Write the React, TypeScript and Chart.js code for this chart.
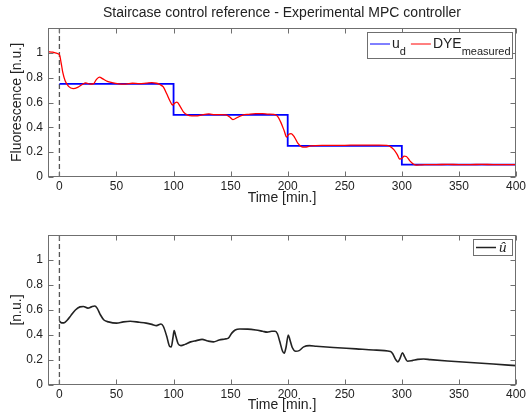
import React, { useEffect, useRef } from 'react';
import { Chart, registerables } from 'chart.js';

Chart.register(...registerables);

const FONT = "'Liberation Sans', Arial, Helvetica, sans-serif";
const TEXT_COLOR = '#222222';
const AXIS_COLOR = '#6f6f6f';

const TITLE = 'Staircase control reference - Experimental MPC controller';
const X_TITLE = 'Time [min.]';
const Y_TITLE_TOP = 'Fluorescence [n.u.]';
const Y_TITLE_BOTTOM = '[n.u.]';

const X_MIN = -10;
const X_MAX = 400;
const Y_MIN = 0;
const Y_MAX = 1.2;
const X_TICKS = [0, 50, 100, 150, 200, 250, 300, 350, 400];
const Y_TICKS = [0, 0.2, 0.4, 0.6, 0.8, 1];

// reference u_d (stepped)
const REF_T = [0, 100, 200, 300, 400];
const REF_V = [0.75, 0.5, 0.25, 0.1, 0.1];

// measured dye fluorescence
const DYE_T = [-10, -6, -2, 0, 1.5, 3, 5, 8, 12, 16, 20, 23, 27, 30, 32, 35, 38, 42, 46, 52, 58, 64, 70, 76, 81, 85, 88, 91, 94, 97, 99, 101, 103, 106, 109, 112, 116, 121, 126, 131, 136, 141, 146, 149, 152, 156, 160, 166, 172, 178, 183, 188, 191, 194, 197, 199, 201, 203, 206, 209, 212, 215, 220, 230, 240, 250, 260, 270, 280, 287, 290, 293, 296, 298, 300, 302, 304, 307, 310, 313, 316, 320, 330, 340, 350, 360, 370, 380, 390, 400];
const DYE_V = [1.01, 1.005, 0.995, 0.985, 0.92, 0.84, 0.775, 0.73, 0.712, 0.722, 0.745, 0.758, 0.748, 0.752, 0.78, 0.805, 0.79, 0.77, 0.76, 0.75, 0.748, 0.755, 0.752, 0.756, 0.76, 0.755, 0.745, 0.725, 0.67, 0.61, 0.58, 0.595, 0.603, 0.565, 0.52, 0.5, 0.492, 0.493, 0.503, 0.508, 0.502, 0.502, 0.5, 0.485, 0.462, 0.48, 0.497, 0.505, 0.51, 0.51, 0.507, 0.505, 0.49, 0.44, 0.37, 0.322, 0.345, 0.35, 0.32, 0.27, 0.245, 0.24, 0.25, 0.255, 0.255, 0.255, 0.257, 0.256, 0.257, 0.255, 0.245, 0.22, 0.18, 0.145, 0.15, 0.168, 0.165, 0.13, 0.105, 0.096, 0.097, 0.1, 0.1, 0.101, 0.1, 0.1, 0.101, 0.1, 0.1, 0.1];

// control action u-hat
const U_T = [0, 2, 4, 7, 10, 14, 18, 21, 25, 28, 31, 33, 36, 39, 43, 50, 56, 62, 70, 76, 81, 85, 89, 91, 94, 96.5, 98, 99.5, 100.5, 102, 104, 106.5, 110, 115, 120, 125, 130, 135, 140, 145, 148, 151, 154, 158, 165, 172, 178, 182, 186, 189, 191, 193, 195.5, 197, 198.5, 200.5, 202, 204, 207, 210, 214, 219, 225, 240, 260, 275, 290, 292, 294.5, 296.5, 298.5, 300.5, 302.5, 305, 309, 314, 319, 325, 340, 360, 380, 400];
const U_V = [0.51, 0.497, 0.497, 0.52, 0.555, 0.6, 0.625, 0.628, 0.615, 0.625, 0.632, 0.615, 0.56, 0.52, 0.505, 0.495, 0.505, 0.51, 0.502, 0.495, 0.485, 0.475, 0.488, 0.47, 0.39, 0.31, 0.305, 0.38, 0.435, 0.39, 0.33, 0.315, 0.325, 0.345, 0.355, 0.365, 0.352, 0.345, 0.36, 0.368, 0.375, 0.415, 0.44, 0.448, 0.447, 0.44, 0.43, 0.423, 0.43, 0.43, 0.41, 0.35, 0.27, 0.255, 0.3, 0.4, 0.36, 0.3, 0.27, 0.275, 0.305, 0.315, 0.31, 0.3, 0.289, 0.28, 0.268, 0.25, 0.205, 0.185, 0.215, 0.258, 0.225, 0.19, 0.195, 0.205, 0.208, 0.203, 0.192, 0.18, 0.168, 0.155];

// start marker (dashed vertical line at t = 0)
const MARK_T = [0, 0];
const MARK_V = [0, 1.2];

const pts = (t: number[], v: number[]) => t.map((x, i) => ({ x, y: v[i] }));

type Part = { text: string; font: string; sub?: boolean };
type LegendItem = { color: string; width: number; parts: Part[] };
type LegendCfg = {
  items: LegendItem[];
  h: number;
  lineDy: number;
  baseDy: number;
  subDy: number;
  padL: number;
  padR: number;
  lineLen: number;
  gap: number;
  itemGap: number;
};

function makeDecor(title: string | null, legend: LegendCfg) {
  return {
    id: 'decor',
    afterDraw(chart: any) {
      const { ctx, chartArea: a, scales } = chart;
      const xs = scales.x;
      const ys = scales.y;
      ctx.save();
      // box
      ctx.strokeStyle = AXIS_COLOR;
      ctx.lineWidth = 1;
      const L = Math.round(a.left) + 0.5;
      const R = Math.round(a.right) - 0.5;
      const T = Math.round(a.top) + 0.5;
      const B = Math.round(a.bottom) - 0.5;
      ctx.strokeRect(L, T, R - L, B - T);
      // inward ticks
      const tl = 5;
      ctx.beginPath();
      X_TICKS.forEach((v) => {
        const px = Math.round(xs.getPixelForValue(v)) + 0.5;
        ctx.moveTo(px, B);
        ctx.lineTo(px, B - tl);
        ctx.moveTo(px, T);
        ctx.lineTo(px, T + tl);
      });
      Y_TICKS.forEach((v) => {
        const py = Math.round(ys.getPixelForValue(v)) + 0.5;
        ctx.moveTo(L, py);
        ctx.lineTo(L + tl, py);
        ctx.moveTo(R, py);
        ctx.lineTo(R - tl, py);
      });
      ctx.stroke();

      // title
      if (title) {
        ctx.fillStyle = TEXT_COLOR;
        ctx.font = `14px ${FONT}`;
        ctx.textAlign = 'center';
        ctx.textBaseline = 'middle';
        ctx.fillText(title, (a.left + a.right) / 2, 13);
      }

      // legend
      const lg = legend;
      const widths = lg.items.map((it) =>
        it.parts.reduce((s, p) => {
          ctx.font = p.font;
          return s + ctx.measureText(p.text).width;
        }, 0)
      );
      let total = lg.padL + lg.padR + lg.itemGap * (lg.items.length - 1);
      widths.forEach((w) => (total += lg.lineLen + lg.gap + w));
      const right = Math.round(a.right) - 3;
      const left = Math.round(right - total);
      const top = Math.round(a.top) + 4;
      ctx.fillStyle = '#ffffff';
      ctx.fillRect(left, top, right - left, lg.h);
      ctx.strokeStyle = AXIS_COLOR;
      ctx.lineWidth = 1;
      ctx.strokeRect(left + 0.5, top + 0.5, right - left - 1, lg.h - 1);
      let x = left + lg.padL;
      lg.items.forEach((it, i) => {
        ctx.strokeStyle = it.color;
        ctx.lineWidth = it.width;
        ctx.beginPath();
        ctx.moveTo(x, top + lg.lineDy);
        ctx.lineTo(x + lg.lineLen, top + lg.lineDy);
        ctx.stroke();
        x += lg.lineLen + lg.gap;
        ctx.fillStyle = TEXT_COLOR;
        ctx.textAlign = 'left';
        ctx.textBaseline = 'alphabetic';
        it.parts.forEach((p) => {
          ctx.font = p.font;
          ctx.fillText(p.text, x, top + (p.sub ? lg.subDy : lg.baseDy));
          x += ctx.measureText(p.text).width;
        });
        if (i < lg.items.length - 1) x += lg.itemGap;
      });
      ctx.restore();
    },
  };
}

function makeChart(
  canvas: HTMLCanvasElement,
  datasets: any[],
  yTitle: string,
  xHeight: number,
  xTitlePad: number,
  decor: any
) {
  return new Chart(canvas, {
    type: 'line',
    data: { datasets },
    options: {
      animation: false,
      responsive: false,
      maintainAspectRatio: false,
      devicePixelRatio: 1,
      layout: { padding: { top: 28, right: 11, left: 0, bottom: 0 } },
      elements: { point: { radius: 0 } },
      plugins: {
        legend: { display: false },
        tooltip: { enabled: false },
        title: { display: false },
      },
      scales: {
        x: {
          type: 'linear',
          min: X_MIN,
          max: X_MAX,
          afterBuildTicks: (s: any) => {
            s.ticks = X_TICKS.map((v) => ({ value: v }));
          },
          afterFit: (s: any) => {
            s.height = xHeight;
          },
          grid: { display: false, drawTicks: false },
          border: { display: false },
          ticks: {
            padding: 2,
            autoSkip: false,
            maxRotation: 0,
            color: TEXT_COLOR,
            font: { family: FONT, size: 12 },
          },
          title: {
            display: true,
            text: X_TITLE,
            color: TEXT_COLOR,
            font: { family: FONT, size: 14 },
            padding: { top: 0, bottom: xTitlePad },
          },
        },
        y: {
          type: 'linear',
          min: Y_MIN,
          max: Y_MAX,
          afterBuildTicks: (s: any) => {
            s.ticks = Y_TICKS.map((v) => ({ value: v }));
          },
          afterFit: (s: any) => {
            s.width = 48;
          },
          grid: { display: false, drawTicks: false },
          border: { display: false },
          ticks: {
            padding: 5,
            autoSkip: false,
            color: TEXT_COLOR,
            font: { family: FONT, size: 12 },
            callback: (v: any) => String(Math.round(Number(v) * 10) / 10),
          },
          title: {
            display: true,
            text: yTitle,
            color: TEXT_COLOR,
            font: { family: FONT, size: 14 },
            padding: { top: 9, bottom: 0 },
          },
        },
      },
    },
    plugins: [decor],
  } as any);
}

export default function App() {
  const topRef = useRef<HTMLCanvasElement>(null);
  const botRef = useRef<HTMLCanvasElement>(null);

  useEffect(() => {
    const marker = {
      data: pts(MARK_T, MARK_V),
      borderColor: '#555555',
      borderWidth: 1.3,
      borderDash: [5, 3],
      pointRadius: 0,
      order: 3,
    };
    const topDecor = makeDecor(TITLE, {
      items: [
        {
          color: '#0000ff',
          width: 1,
          parts: [
            { text: 'u', font: `14px ${FONT}` },
            { text: 'd', font: `11px ${FONT}`, sub: true },
          ],
        },
        {
          color: '#ff0000',
          width: 1,
          parts: [
            { text: 'DYE', font: `14px ${FONT}` },
            { text: 'measured', font: `11px ${FONT}`, sub: true },
          ],
        },
      ],
      h: 27,
      lineDy: 12,
      baseDy: 16,
      subDy: 23,
      padL: 3,
      padR: 2,
      lineLen: 20,
      gap: 2,
      itemGap: 5,
    });
    const botDecor = makeDecor(null, {
      items: [
        {
          color: '#222222',
          width: 1.5,
          parts: [{ text: 'û', font: `italic 15px 'Liberation Serif', 'DejaVu Serif', serif` }],
        },
      ],
      h: 17,
      lineDy: 8.5,
      baseDy: 12.5,
      subDy: 12.5,
      padL: 3,
      padR: 7,
      lineLen: 20,
      gap: 3,
      itemGap: 0,
    });

    const c1 = makeChart(
      topRef.current!,
      [
        {
          data: pts(DYE_T, DYE_V),
          borderColor: '#ff0000',
          borderWidth: 1.3,
          cubicInterpolationMode: 'monotone',
          pointRadius: 0,
          order: 0,
        },
        {
          data: pts(REF_T, REF_V),
          borderColor: '#0000ff',
          borderWidth: 1.8,
          stepped: true,
          pointRadius: 0,
          order: 1,
        },
        marker,
      ],
      Y_TITLE_TOP,
      30,
      0,
      topDecor
    );
    const c2 = makeChart(
      botRef.current!,
      [
        {
          data: pts(U_T, U_V),
          borderColor: '#222222',
          borderWidth: 1.6,
          cubicInterpolationMode: 'monotone',
          pointRadius: 0,
          order: 0,
        },
        { ...marker, data: pts(MARK_T, MARK_V) },
      ],
      Y_TITLE_BOTTOM,
      29,
      0,
      botDecor
    );
    return () => {
      c1.destroy();
      c2.destroy();
    };
  }, []);

  return (
    <div
      style={{
        position: 'absolute',
        left: 0,
        top: 0,
        width: 528,
        height: 414,
        background: '#ffffff',
      }}
    >
      <canvas ref={topRef} width={528} height={207} style={{ display: 'block' }} />
      <canvas ref={botRef} width={528} height={207} style={{ display: 'block' }} />
    </div>
  );
}
